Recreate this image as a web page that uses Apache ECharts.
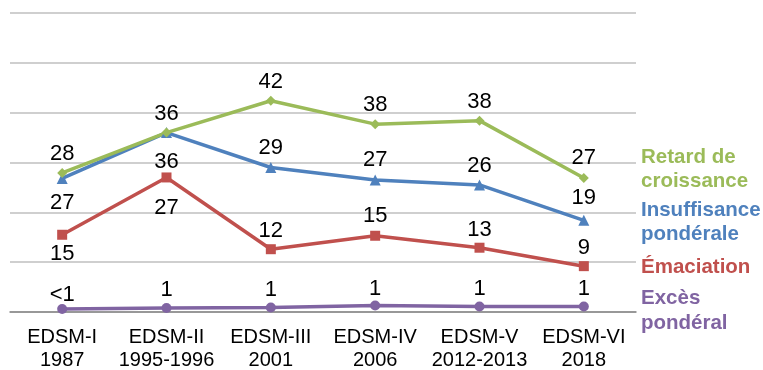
<!DOCTYPE html>
<html>
<head>
<meta charset="utf-8">
<script src="https://cdn.jsdelivr.net/npm/echarts@6/dist/echarts.min.js"></script>
<style>
html, body { margin: 0; padding: 0; background: #fff; }
#chart { width: 763px; height: 370px; }
</style>
</head>
<body>
<div id="chart"></div>
<script>
var categories = ["EDSM-I\n1987", "EDSM-II\n1995-1996", "EDSM-III\n2001", "EDSM-IV\n2006", "EDSM-V\n2012-2013", "EDSM-VI\n2018"];

var retard = [27.9, 36, 42.4, 37.7, 38.4, 26.9];
var retardLabels = ["28", "36", "42", "38", "38", "27"];

var insuff = [26.8, 36, 29, 26.5, 25.5, 18.4];
var insuffLabels = ["27", "36", "29", "27", "26", "19"];

var emac = [15.5, 27, 12.6, 15.3, 12.9, 9.2];
var emacLabels = ["15", "27", "12", "15", "13", "9"];

var exces = [0.6, 0.8, 0.9, 1.3, 1.1, 1.1];
var excesLabels = ["<1", "1", "1", "1", "1", "1"];

var chart = echarts.init(document.getElementById("chart"));
var FONT = "Liberation Sans, Arial, sans-serif";

// vertical shift of each data label box from its marker (px)
var retardShift = [-19, -19, -19, -19, -19, -20];
var insuffShift = [24, 29, -20, -20, -19, -22];
var emacShift = [19, 30, -18, -20, -18, -18];
var excesShift = [-14, -18, -18, -17, -18, -18];

function pts(vals, labels) {
  var out = [];
  for (var i = 0; i < vals.length; i++) {
    out.push({ value: vals[i], label: { formatter: labels[i] } });
  }
  return out;
}

function line(name, color, symbol, size, data, shift) {
  return {
    name: name,
    type: "line",
    symbol: symbol,
    symbolSize: size,
    showSymbol: true,
    itemStyle: { color: color },
    lineStyle: { color: color, width: 3.5 },
    label: {
      show: true,
      position: "inside",
      color: "#000",
      fontFamily: FONT,
      fontSize: 22
    },
    labelLayout: function (p) {
      return { dy: shift[p.dataIndex] };
    },
    z: 3,
    data: data
  };
}

var opt = {
  animation: false,
  grid: { left: 10, right: 127, top: 13, bottom: 58, containLabel: false, outerBoundsMode: "none" },
  xAxis: {
    type: "category",
    data: categories,
    boundaryGap: true,
    axisLine: { lineStyle: { color: "#868686", width: 1.5 } },
    axisTick: { show: false },
    axisLabel: {
      color: "#000",
      fontFamily: FONT,
      fontSize: 20,
      lineHeight: 23,
      margin: 14,
      interval: 0
    }
  },
  yAxis: {
    type: "value",
    min: 0,
    max: 60,
    interval: 10,
    axisLabel: { show: false },
    axisLine: { show: false },
    axisTick: { show: false },
    splitLine: { lineStyle: { color: "#bfbfbf", width: 1.5 } }
  },
  series: [
    line("Excès pondéral", "#8064A2", "circle", 10, pts(exces, excesLabels), excesShift),
    line("Émaciation", "#C0504D", "rect", 10, pts(emac, emacLabels), emacShift),
    line("Insuffisance pondérale", "#4F81BD", "triangle", 11, pts(insuff, insuffLabels), insuffShift),
    line("Retard de croissance", "#9BBB59", "diamond", 10, pts(retard, retardLabels), retardShift)
  ],
  graphic: [
    { type: "text", left: 641, top: 145, style: { text: "Retard de\ncroissance", fill: "#9BBB59", font: "bold 20.5px " + FONT, lineHeight: 24 } },
    { type: "text", left: 641, top: 198, style: { text: "Insuffisance\npondérale", fill: "#4F81BD", font: "bold 20.5px " + FONT, lineHeight: 24 } },
    { type: "text", left: 641, top: 255, style: { text: "Émaciation", fill: "#C0504D", font: "bold 20.5px " + FONT, lineHeight: 24 } },
    { type: "text", left: 641, top: 286, style: { text: "Excès\npondéral", fill: "#8064A2", font: "bold 20.5px " + FONT, lineHeight: 25 } }
  ]
};

chart.setOption(opt);
</script>
</body>
</html>
